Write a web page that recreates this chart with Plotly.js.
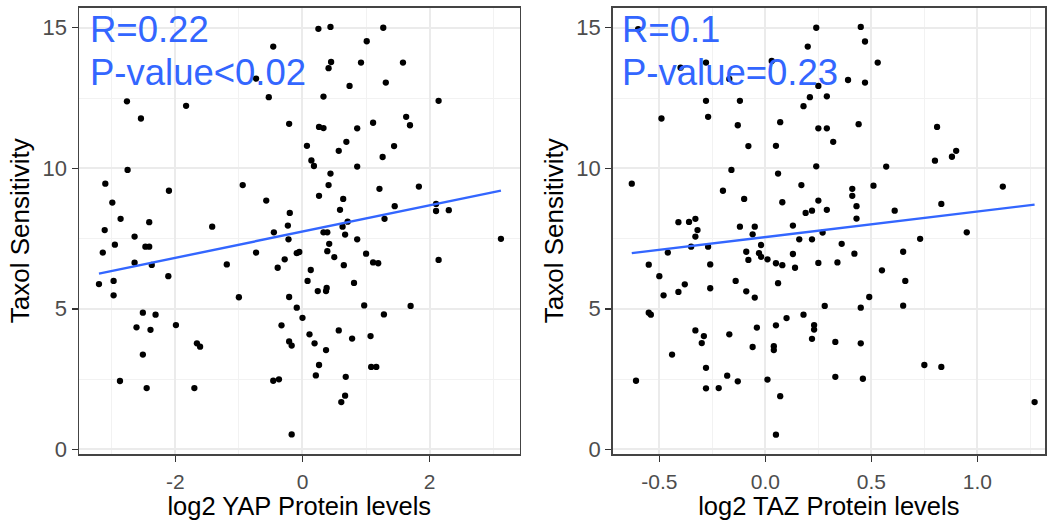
<!DOCTYPE html>
<html>
<head>
<meta charset="utf-8">
<script src="https://cdn.plot.ly/plotly-3.0.1.min.js"></script>
<style>html,body{margin:0;padding:0;background:#fff;}#chart{width:1047px;height:520px;}</style>
</head>
<body>
<div id="chart"></div>
<script>
// YAP panel data (log2 YAP protein level vs Taxol sensitivity)
var yapX = [-0.73,-2.76,-1.83,-2.54,-2.75,-3.10,-2.10,-0.94,-2.99,-2.86,-2.41,-1.42,-3.11,-2.64,
  0.25,0.44,1.27,-0.46,1.01,0.45,0.41,0.92,1.58,0.74,1.31,-0.53,0.33,2.14,-0.21,0.26,0.33,0.86,1.11,1.63,1.69,
  0.07,0.69,0.57,1.44,1.26,0.14,0.18,0.86,0.44,0.41,1.21,1.83,0.26,0.64,-0.57,-0.20,0.59,1.45,2.10,2.10,2.30,
  -0.23,-0.45,0.71,0.63,1.29,0.33,0.39,0.67,0.86,-0.22,3.12,
  -3.14,-2.95,-2.47,-2.41,-2.64,-2.37,-3.20,-2.97,-2.97,-2.11,-1.19,-0.73,-1.00,-2.51,-2.31,-2.61,-2.39,-1.99,
  -1.66,-1.61,-2.51,-2.87,-2.45,-1.70,
  0.42,0.39,-0.09,-0.05,-0.28,-0.39,0.50,0.65,1.00,1.11,1.19,2.14,0.13,0.08,0.81,0.24,0.37,0.38,-0.21,-0.09,
  0.97,1.70,0.00,1.28,-0.33,0.11,0.57,0.78,1.07,-0.21,-0.17,0.19,0.37,0.26,1.08,1.16,0.21,0.68,-0.46,-0.37,
  0.67,0.61,-0.17];
var yapY = [13.19,12.38,12.22,11.77,9.94,9.45,9.20,9.40,8.78,8.20,8.08,7.92,7.80,7.57,
  14.96,15.03,15.00,14.33,14.52,13.78,13.56,13.76,13.76,12.93,13.05,12.53,12.55,12.40,11.58,11.47,11.43,11.42,11.62,11.83,11.53,
  10.80,10.94,10.62,10.79,10.40,10.28,10.08,10.06,9.81,9.40,9.27,9.35,9.02,8.91,8.85,8.41,8.52,8.65,8.73,8.48,8.51,
  7.96,7.72,8.10,7.92,8.20,7.72,7.72,7.64,7.47,7.47,7.49,
  7.00,7.28,7.21,7.21,6.64,6.56,5.88,5.99,5.48,6.16,6.58,7.00,5.41,4.86,4.79,4.34,4.25,4.42,
  3.77,3.65,3.37,2.43,2.18,2.18,
  7.31,7.05,6.98,7.02,6.76,6.46,6.84,6.55,6.96,6.65,6.62,6.74,6.38,5.99,5.92,5.63,5.63,5.74,5.42,5.04,
  5.12,5.10,4.68,4.80,4.41,4.09,4.23,3.94,4.03,3.84,3.69,3.77,3.53,3.00,2.93,2.93,2.63,2.58,2.44,2.49,
  1.91,1.68,0.53];

// TAZ panel data (log2 TAZ protein level vs Taxol sensitivity)
var tazX = [-0.60,-0.28,-0.40,-0.17,0.03,-0.28,-0.12,-0.49,-0.27,-0.13,0.07,-0.08,0.05,-0.16,0.06,-0.63,-0.20,-0.10,0.08,
  -0.41,-0.36,-0.33,-0.32,-0.33,-0.12,-0.05,-0.06,
  0.24,0.45,0.47,0.20,0.53,0.39,0.25,0.47,0.21,0.29,0.18,0.25,0.29,0.44,0.81,0.32,0.24,0.57,0.80,0.88,0.90,
  0.17,0.41,0.41,0.51,1.12,0.25,0.19,0.22,0.29,0.43,0.61,0.83,0.43,0.13,0.27,0.95,0.73,0.16,0.22,
  -0.55,-0.46,-0.35,-0.27,-0.26,-0.02,-0.09,-0.08,-0.03,-0.02,0.01,0.05,0.08,-0.50,-0.48,-0.41,-0.38,-0.26,
  -0.14,-0.09,-0.05,0.06,-0.55,-0.54,0.10,-0.33,-0.29,-0.30,-0.17,-0.04,0.05,-0.06,0.04,0.04,-0.44,-0.28,
  -0.18,-0.13,0.01,-0.61,-0.28,-0.22,0.07,0.05,
  0.36,0.13,0.42,0.65,0.14,0.25,0.34,0.55,0.66,0.49,0.28,0.45,0.65,0.18,0.23,0.23,0.22,0.33,0.45,0.75,0.83,
  0.33,0.46,1.27];
var tazY = [14.95,13.76,13.58,13.18,13.82,12.40,12.40,11.77,11.83,11.53,11.64,10.79,10.80,9.94,9.81,9.45,9.20,8.91,8.79,
  8.08,8.09,8.20,7.80,7.57,7.92,7.92,7.65,
  15.00,15.03,14.51,14.33,13.76,13.14,12.93,13.05,12.53,12.56,12.21,11.42,11.42,11.57,11.47,10.94,10.07,10.06,10.27,10.41,10.62,
  9.40,9.27,9.02,9.38,9.35,8.85,8.41,8.49,8.52,8.65,8.49,8.73,8.21,7.96,7.71,7.72,7.49,7.47,7.47,
  6.57,7.00,7.21,7.21,6.58,7.27,7.03,6.74,6.98,6.85,6.76,6.62,6.55,6.16,5.48,5.60,5.87,5.73,
  5.99,5.62,5.40,5.91,4.86,4.79,4.67,4.23,4.03,3.78,4.09,4.33,4.41,3.64,3.67,3.53,3.37,2.90,
  2.62,2.42,2.48,2.44,2.17,2.18,1.89,0.52,
  7.31,6.95,6.96,7.03,6.46,6.63,6.65,6.37,5.99,5.42,5.10,5.04,5.11,4.79,4.42,4.26,3.93,3.82,3.77,3.00,2.93,
  2.58,2.51,1.68];

var yTicks = [0, 5, 10, 15];
var yTickText = ["0", "5", "10", "15"];
var yapTicks = [-2, 0, 2];
var yapTickText = ["-2", "0", "2"];
var tazTicks = [-0.5, 0, 0.5, 1];
var tazTickText = ["-0.5", "0.0", "0.5", "1.0"];
var yapStats = ["R=0.22", "P-value<0.02"];
var tazStats = ["R=0.1", "P-value=0.23"];

// least-squares fit (geom_smooth method = lm)
function fit(xs, ys) {
  var n = xs.length, mx = 0, my = 0;
  for (var i = 0; i < n; i++) { mx += xs[i]; my += ys[i]; }
  mx /= n; my /= n;
  var sxy = 0, sxx = 0;
  for (var j = 0; j < n; j++) { sxy += (xs[j] - mx) * (ys[j] - my); sxx += (xs[j] - mx) * (xs[j] - mx); }
  var b = sxy / sxx, a = my - b * mx;
  var lo = Math.min.apply(null, xs), hi = Math.max.apply(null, xs);
  return { x: [lo, hi], y: [a + b * lo, a + b * hi] };
}
var yapFit = fit(yapX, yapY);
var tazFit = fit(tazX, tazY);

var FONT = "Liberation Sans, Arial, Helvetica, sans-serif";
var BLUE = "#3366FF";

var traces = [
  { x: yapX, y: yapY, type: "scatter", mode: "markers", xaxis: "x", yaxis: "y",
    marker: { color: "#000000", size: 6.3 }, hoverinfo: "x+y" },
  { x: yapFit.x, y: yapFit.y, type: "scatter", mode: "lines", xaxis: "x", yaxis: "y",
    line: { color: BLUE, width: 2.4 } },
  { x: tazX, y: tazY, type: "scatter", mode: "markers", xaxis: "x2", yaxis: "y2",
    marker: { color: "#000000", size: 6.3 }, hoverinfo: "x+y" },
  { x: tazFit.x, y: tazFit.y, type: "scatter", mode: "lines", xaxis: "x2", yaxis: "y2",
    line: { color: BLUE, width: 2.4 } }
];

var W = 1047, H = 520;
var yDom = [(H - 454) / H, (H - 7.5) / H];

function xaxisBase(dom, rng, tv, tt, minor0, minorD, title) {
  return {
    domain: dom, range: rng, tickmode: "array", tickvals: tv, ticktext: tt,
    showgrid: true, gridcolor: "#EBEBEB", gridwidth: 2, zeroline: false,
    minor: { tickmode: "linear", tick0: minor0, dtick: minorD, showgrid: true, gridcolor: "#F2F2F2", gridwidth: 1, ticks: "" },
    showline: true, mirror: true, linecolor: "#444444", linewidth: 1.5,
    ticks: "outside", ticklen: 6, tickwidth: 1.5, tickcolor: "#333333",
    ticklabelstandoff: 2,
    tickfont: { family: FONT, size: 21, color: "#4D4D4D" },
    title: { text: title, font: { family: FONT, size: 25.5, color: "#000000" }, standoff: 10 },
    fixedrange: true
  };
}
function yaxisBase(anchor) {
  return {
    domain: yDom, range: [-0.167, 15.72], anchor: anchor, tickmode: "array", tickvals: yTicks, ticktext: yTickText,
    showgrid: true, gridcolor: "#EBEBEB", gridwidth: 2, zeroline: false,
    minor: { tickmode: "linear", tick0: 2.5, dtick: 5, showgrid: true, gridcolor: "#F2F2F2", gridwidth: 1, ticks: "" },
    showline: true, mirror: true, linecolor: "#444444", linewidth: 1.5,
    ticks: "outside", ticklen: 6, tickwidth: 1.5, tickcolor: "#333333",
    tickfont: { family: FONT, size: 22, color: "#4D4D4D" },
    title: { text: "Taxol Sensitivity", font: { family: FONT, size: 26, color: "#000000" }, standoff: 5 },
    fixedrange: true
  };
}

var xa = xaxisBase([79 / W, 519.5 / W], [-3.514, 3.412], yapTicks, yapTickText, -3, 2, "log2 YAP Protein levels");
xa.anchor = "y";
var xa2 = xaxisBase([612.7 / W, 1045 / W], [-0.720, 1.319], tazTicks, tazTickText, -0.25, 0.5, "log2 TAZ Protein levels");
xa2.anchor = "y2";

function ann(xpx, ypx, text) {
  return { xref: "paper", yref: "paper", x: xpx / W, y: (H - ypx) / H, xanchor: "left", yanchor: "middle",
    text: text, showarrow: false, font: { family: FONT, size: 36.5, color: BLUE } };
}

var layout = {
  width: W, height: H,
  margin: { l: 0, r: 0, t: 0, b: 0 },
  paper_bgcolor: "#FFFFFF", plot_bgcolor: "#FFFFFF",
  showlegend: false,
  xaxis: xa, yaxis: yaxisBase("x"),
  xaxis2: xa2, yaxis2: yaxisBase("x2"),
  annotations: [
    ann(87.5, 29, yapStats[0]), ann(87.5, 73, yapStats[1]),
    ann(620, 29, tazStats[0]), ann(620, 73, tazStats[1])
  ]
};

Plotly.newPlot("chart", traces, layout, { staticPlot: true, displayModeBar: false });
</script>
</body>
</html>
